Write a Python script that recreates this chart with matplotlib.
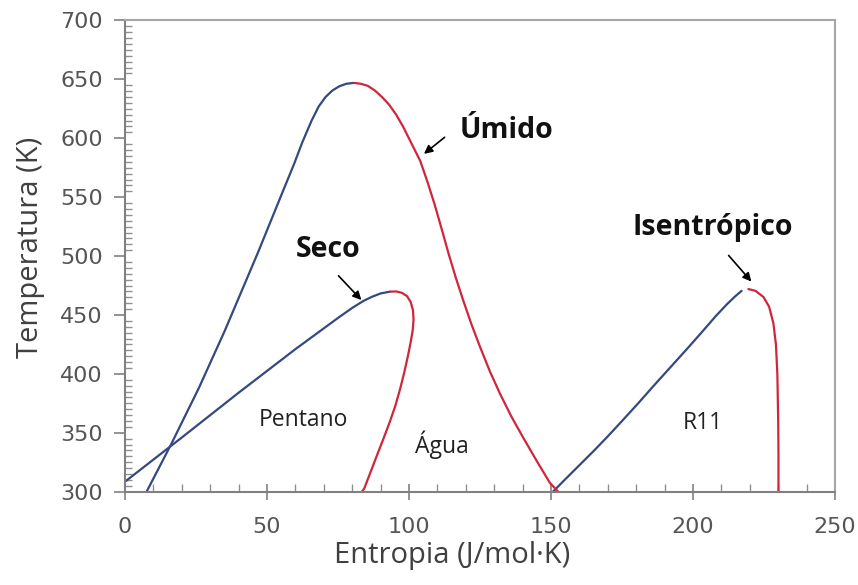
import matplotlib
matplotlib.use("Agg")
import matplotlib.pyplot as plt
from matplotlib.ticker import MultipleLocator

# Água (water): saturated liquid (blue) and vapour (red) branches
agua_liq_s = [7.6, 16.4, 26.0, 35.2, 46.9, 55.0, 59.5, 62.5, 65.7, 68.2, 70.6, 73.0, 75.5, 78.0, 80.5]
agua_liq_T = [300.0, 341.0, 388.0, 437.0, 503.5, 551.5, 578.0, 597.0, 615.0, 627.0, 635.0, 640.5, 644.2, 646.3, 647.0]
agua_vap_s = [80.5, 83.0, 85.5, 88.0, 90.5, 93.0, 95.5, 98.0, 101.0, 104.0, 106.5, 109.0, 111.5, 114.0,
              116.5, 119.0, 122.0, 125.0, 128.5, 132.0, 136.0, 140.3, 145.0, 149.6, 152.5]
agua_vap_T = [647.0, 646.3, 644.5, 640.5, 635.0, 628.5, 620.0, 609.5, 595.0, 580.5, 563.0, 544.0, 523.0, 501.5,
              481.5, 463.0, 442.0, 423.0, 402.0, 383.4, 364.0, 345.5, 326.0, 307.5, 300.0]

# Pentano
pentano_liq_s = [0.0, 20.0, 40.0, 60.0, 75.0, 80.0, 84.0, 87.0, 90.0, 93.3]
pentano_liq_T = [308.5, 346.0, 384.0, 421.0, 447.5, 456.0, 462.0, 465.5, 468.3, 469.8]
pentano_vap_s = [93.3, 95.5, 97.5, 99.3, 100.6, 101.4, 101.6, 101.3, 100.6, 99.6, 98.3, 96.9, 95.2,
                 93.2, 91.0, 88.9, 87.0, 85.4, 84.2, 83.4]
pentano_vap_T = [469.8, 470.0, 468.8, 466.0, 461.0, 454.0, 446.0, 437.0, 427.0, 415.0, 401.0, 387.5, 373.0,
                 359.0, 345.0, 332.0, 320.0, 310.0, 302.5, 300.0]

# R11
r11_liq_s = [150.7, 155.0, 160.0, 165.0, 170.0, 175.0, 180.5, 186.0, 192.0, 198.0, 203.5, 208.0, 211.9,
             214.7, 217.1]
r11_liq_T = [300.0, 310.5, 322.5, 334.5, 347.0, 360.0, 374.5, 389.5, 405.5, 421.5, 436.5, 449.0, 459.0,
             465.5, 470.5]
r11_vap_s = [219.5, 222.0, 224.8, 226.8, 228.3, 229.2, 229.7, 230.0, 230.1, 230.1]
r11_vap_T = [472.0, 470.5, 465.3, 457.0, 443.0, 425.0, 400.0, 360.0, 330.0, 300.0]

# annotations: (text, text position, arrow head, arrow tail)
notas = [
    ("Úmido", (134.2, 606.5), (104.5, 585.3), (113.3, 602.3)),
    ("Seco", (71.5, 505.7), (83.9, 461.0), (74.5, 485.0)),
    ("Isentrópico", (207.0, 524.3), (221.2, 476.6), (211.9, 502.3)),
]
rotulos = [("Pentano", 63.0, 360.8), ("Água", 111.5, 339.6), ("R11", 203.6, 358.0)]

azul = "#34497f"
vermelho = "#d0263b"

fig = plt.figure(figsize=(8.58, 5.85), dpi=100)
ax = fig.add_axes([0.1457, 0.1595, 0.8275, 0.8055])

for s, T in [(agua_liq_s, agua_liq_T), (pentano_liq_s, pentano_liq_T), (r11_liq_s, r11_liq_T)]:
    ax.plot(s, T, color=azul, lw=1.6, solid_capstyle="round", solid_joinstyle="round")
for s, T in [(agua_vap_s, agua_vap_T), (pentano_vap_s, pentano_vap_T), (r11_vap_s, r11_vap_T)]:
    ax.plot(s, T, color=vermelho, lw=1.6, solid_capstyle="round", solid_joinstyle="round")

for texto, pos, ponta, cauda in notas:
    ax.annotate("", xy=ponta, xytext=cauda,
                arrowprops=dict(arrowstyle="-|>,head_length=0.5,head_width=0.25", color="black", lw=1.2))
    ax.text(pos[0], pos[1], texto, ha="center", va="center", fontsize=20.5,
            fontweight="bold", family="Open Sans", color="#111111")

for texto, x, y in rotulos:
    ax.text(x, y, texto, ha="center", va="center", fontsize=16.5, family="Open Sans", color="#222222")

ax.set_xlim(0, 250)
ax.set_ylim(300, 700)
ax.xaxis.set_major_locator(MultipleLocator(50))
ax.xaxis.set_minor_locator(MultipleLocator(10))
ax.yaxis.set_major_locator(MultipleLocator(50))
ax.yaxis.set_minor_locator(MultipleLocator(5))

ax.tick_params(axis="x", which="major", direction="inout", length=12, width=1.2, color="#808080",
               labelsize=16, labelcolor="#555555", pad=12)
ax.tick_params(axis="x", which="minor", direction="in", length=6, width=1.0, color="#909090")
ax.tick_params(axis="y", which="major", direction="out", length=8, width=1.2, color="#808080",
               labelsize=16, labelcolor="#555555", pad=8)
ax.tick_params(axis="y", which="minor", direction="in", length=5, width=1.0, color="#909090")
for lab in ax.get_xticklabels() + ax.get_yticklabels():
    lab.set_family("DejaVu Sans")

for lado in ["left", "bottom"]:
    ax.spines[lado].set_color("#808080")
    ax.spines[lado].set_linewidth(1.5)
for lado in ["top", "right"]:
    ax.spines[lado].set_color("#a6a6a6")
    ax.spines[lado].set_linewidth(1.5)

ax.set_xlabel("Entropia (J/mol·K)", fontsize=21, family="Open Sans", color="#404040")
ax.set_ylabel("Temperatura (K)", fontsize=21, family="Open Sans", color="#404040")
ax.xaxis.set_label_coords(0.461, -0.105)
ax.yaxis.set_label_coords(-0.112, 0.519)

fig.savefig("out.png", dpi=100)
